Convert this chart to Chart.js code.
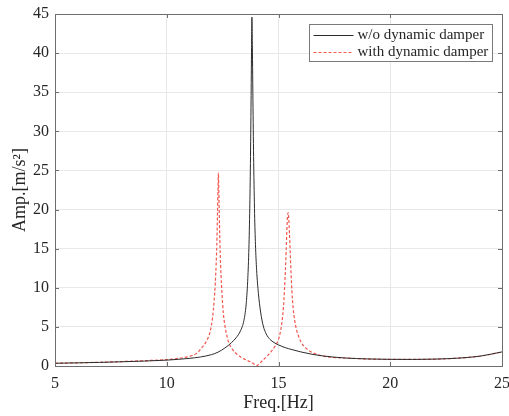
<!DOCTYPE html>
<html>
<head>
<meta charset="utf-8">
<script src="https://cdn.jsdelivr.net/npm/chart.js@4.4.1/dist/chart.umd.min.js"></script>
<style>
  html, body { margin: 0; padding: 0; background: #fff; }
</style>
</head>
<body>
<canvas id="grafico" width="509" height="416"></canvas>
<script>
// valores (Hz, m/s^2)
const freqSin = [5, 6, 7, 8, 9, 10, 10.5, 11, 11.5, 12, 12.3, 12.6, 12.9, 13.1, 13.3, 13.45, 13.55, 13.62, 13.67, 13.71,
  13.74, 13.77, 13.79, 13.81, 13.83, 13.86, 13.89, 13.93, 13.97, 14.02, 14.1, 14.2, 14.32, 14.45, 14.62, 14.8,
  15, 15.3, 15.6, 16, 16.5, 17, 17.5, 18, 19, 20, 21, 22, 23, 24, 25];
const ampSin = [0.35, 0.40, 0.46, 0.54, 0.63, 0.75, 0.85, 0.97, 1.15, 1.45, 1.78, 2.3, 3.0, 3.6, 4.5, 5.8, 7.8, 10.8, 14.5, 19.5,
  25, 33, 39.5, 44.6, 41, 33, 26, 19.5, 15.5, 12.3, 9.3, 6.9, 5.1, 4.1, 3.4, 3.0,
  2.7, 2.35, 2.1, 1.8, 1.5, 1.28, 1.13, 1.02, 0.9, 0.85, 0.84, 0.88, 1.0, 1.25, 1.8];

const freqCon = [5, 6, 7, 8, 9, 10, 10.5, 11, 11.3, 11.56, 11.8, 11.95, 12.05, 12.12, 12.17, 12.21, 12.24, 12.27, 12.29, 12.31,
  12.33, 12.36, 12.39, 12.43, 12.47, 12.53, 12.6, 12.68, 12.76, 12.9, 13.05, 13.28, 13.5, 13.7, 13.85, 13.95, 14.03,
  14.12, 14.25, 14.4, 14.55, 14.7, 14.85, 14.99, 15.08, 15.15, 15.22, 15.27, 15.31, 15.34, 15.37, 15.4, 15.43,
  15.46, 15.49, 15.52, 15.56, 15.6, 15.66, 15.72, 15.8, 15.9, 16, 16.2, 16.5, 16.8, 17.2, 17.6, 18, 19, 20,
  21, 22, 23, 24, 25];
const ampCon = [0.35, 0.41, 0.48, 0.57, 0.68, 0.82, 0.97, 1.22, 1.55, 2.3, 3.3, 4.5, 6.2, 8.3, 10.5, 13, 15.5, 19.5, 22.5, 24.7,
  22.5, 18, 14.5, 11.5, 9.3, 6.8, 5.2, 4.0, 3.1, 2.3, 1.75, 1.2, 0.85, 0.58, 0.35, 0.15, 0.03,
  0.25, 0.6, 1.0, 1.45, 1.95, 2.55, 3.3, 4.3, 5.5, 7.5, 9.8, 12.3, 14.5, 17, 19.0, 19.6,
  18.8, 17, 14.8, 12, 9.6, 7.3, 5.9, 4.7, 3.8, 3.1, 2.35, 1.75, 1.4, 1.18, 1.07, 1.02, 0.9, 0.85,
  0.84, 0.88, 1.0, 1.25, 1.8];

const ticksX = [5, 10, 15, 20, 25];
const ticksY = [0, 5, 10, 15, 20, 25, 30, 35, 40, 45];
const nombres = ['w/o dynamic damper', 'with dynamic damper'];

const fuente = "'Liberation Serif', 'Times New Roman', serif";
const gris = '#262626';

function puntos(xs, ys) {
  return xs.map((x, i) => ({ x: x, y: ys[i] }));
}

// marco tipo matlab: caja, ticks hacia adentro y leyenda con borde
const marco = {
  id: 'marco',
  afterDraw(chart) {
    const { ctx, chartArea: a, scales } = chart;
    ctx.save();
    ctx.strokeStyle = '#6e6e6e';
    ctx.lineWidth = 1;
    ctx.beginPath();
    scales.x.ticks.forEach(t => {
      const px = Math.round(scales.x.getPixelForValue(t.value)) + 0.5;
      ctx.moveTo(px, a.bottom); ctx.lineTo(px, a.bottom - 4);
      ctx.moveTo(px, a.top); ctx.lineTo(px, a.top + 4);
    });
    scales.y.ticks.forEach(t => {
      const py = Math.round(scales.y.getPixelForValue(t.value)) + 0.5;
      ctx.moveTo(a.left, py); ctx.lineTo(a.left + 4, py);
      ctx.moveTo(a.right, py); ctx.lineTo(a.right - 4, py);
    });
    ctx.stroke();
    ctx.strokeRect(Math.round(a.left) + 0.5, Math.round(a.top) + 0.5,
      Math.round(a.right - a.left), Math.round(a.bottom - a.top));

    // leyenda
    const bx = Math.round(a.right) - 193 + 0.5;
    const by = Math.round(a.top) + 10 + 0.5;
    const bw = 183, bh = 37;
    ctx.fillStyle = '#fff';
    ctx.fillRect(bx, by, bw, bh);
    ctx.strokeStyle = '#7a7a7a';
    ctx.strokeRect(bx, by, bw, bh);
    ctx.font = '15px ' + fuente;
    ctx.textBaseline = 'middle';
    ctx.textAlign = 'left';
    chart.data.datasets.forEach((ds, i) => {
      const ly = by + 11 + i * 17;
      ctx.beginPath();
      ctx.strokeStyle = ds.borderColor;
      ctx.lineWidth = ds.borderWidth;
      ctx.setLineDash(ds.borderDash || []);
      ctx.moveTo(bx + 4, ly);
      ctx.lineTo(bx + 44, ly);
      ctx.stroke();
      ctx.setLineDash([]);
      ctx.fillStyle = gris;
      ctx.fillText(ds.label, bx + 48, ly);
    });
    ctx.restore();
  }
};

new Chart(document.getElementById('grafico'), {
  type: 'line',
  data: {
    datasets: [{
      label: nombres[0],
      data: puntos(freqSin, ampSin),
      borderColor: '#2b2b2b',
      borderWidth: 1,
      pointRadius: 0,
      cubicInterpolationMode: 'monotone'
    }, {
      label: nombres[1],
      data: puntos(freqCon, ampCon),
      borderColor: '#f2574f',
      borderWidth: 1.2,
      borderDash: [3, 2],
      pointRadius: 0,
      cubicInterpolationMode: 'monotone'
    }]
  },
  options: {
    responsive: false,
    animation: false,
    layout: { padding: { left: 0, top: 14, right: 7, bottom: 0 } },
    plugins: { legend: { display: false }, tooltip: { enabled: false } },
    scales: {
      x: {
        type: 'linear',
        min: 5, max: 25,
        afterBuildTicks: s => { s.ticks = ticksX.map(v => ({ value: v })); },
        afterFit: s => { s.height = 50; s.paddingLeft = 0; s.paddingRight = 0; },
        grid: { color: '#e8e8e8', drawTicks: false },
        border: { display: false },
        ticks: { padding: 8, color: gris, font: { family: fuente, size: 16 }, maxRotation: 0 },
        title: { display: true, text: 'Freq.[Hz]', color: gris, font: { family: fuente, size: 18 }, padding: { top: 0, bottom: 2 } }
      },
      y: {
        type: 'linear',
        min: 0, max: 45,
        afterBuildTicks: s => { s.ticks = ticksY.map(v => ({ value: v })); },
        afterFit: s => { s.width = 55; s.paddingTop = 0; s.paddingBottom = 0; },
        grid: { color: '#e8e8e8', drawTicks: false },
        border: { display: false },
        ticks: { padding: 6, color: gris, font: { family: fuente, size: 16 } },
        title: { display: true, text: 'Amp.[m/s²]', color: gris, font: { family: fuente, size: 18 }, padding: { top: 9, bottom: 0 } }
      }
    }
  },
  plugins: [marco]
});
</script>
</body>
</html>
